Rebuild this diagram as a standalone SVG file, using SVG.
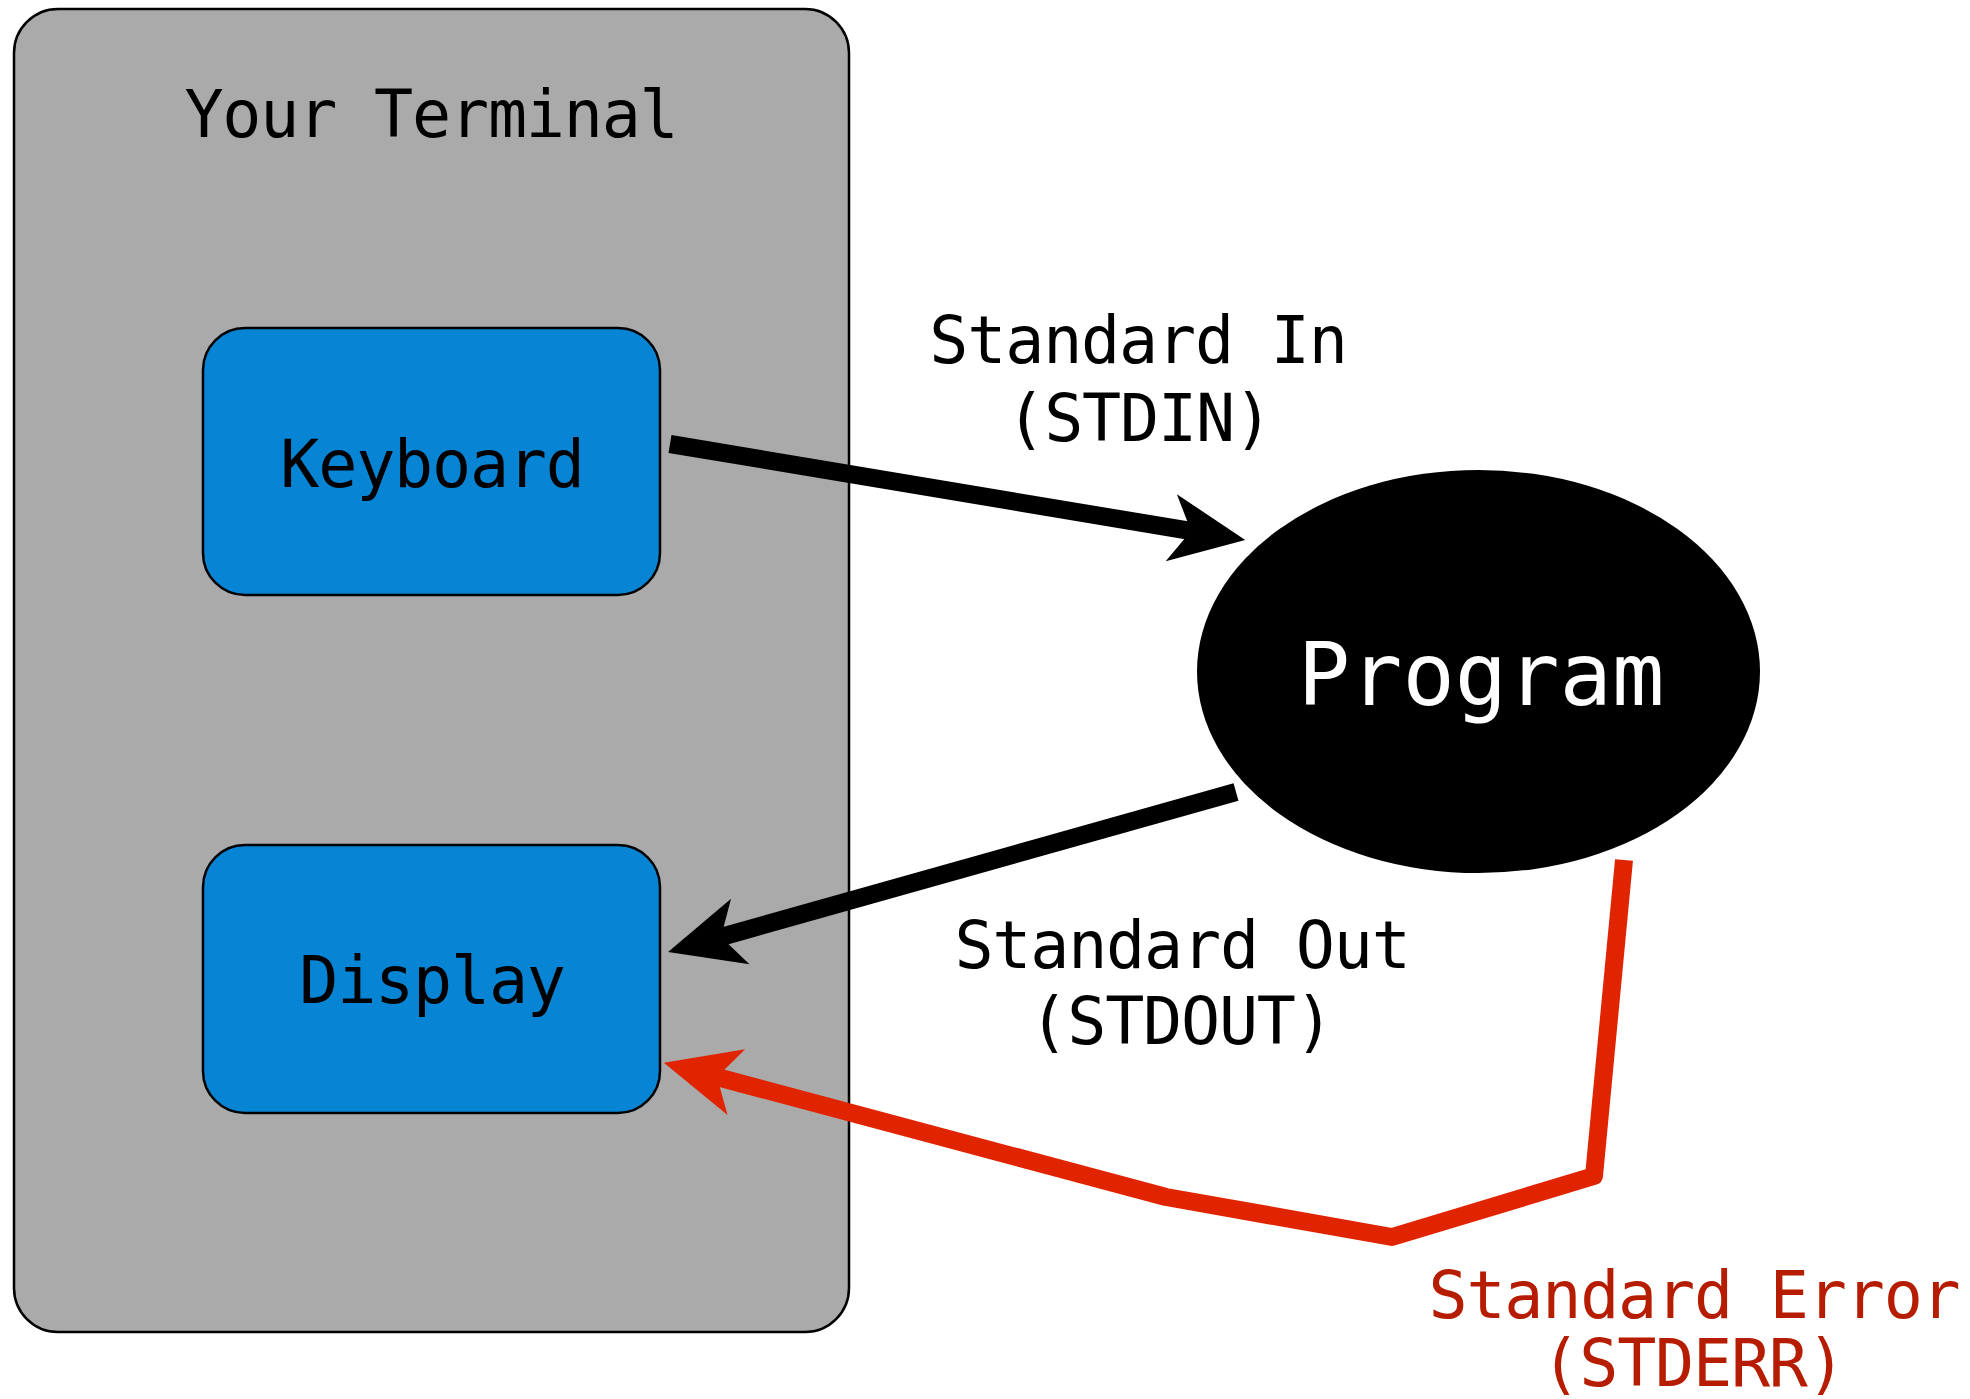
<svg xmlns="http://www.w3.org/2000/svg" width="1970" height="1399" viewBox="0 0 1970 1399">
<style>
  .mono { font-family: "DejaVu Sans Mono", "Liberation Mono", monospace; }
  .lbl { font-size: 65px; letter-spacing: -1.2px; text-anchor: middle; fill: #000; }
  .err { fill: #b51c00; }
  .box { fill: #0784d3; stroke: #000; stroke-width: 2.5; }
  .conn { fill: none; stroke-width: 18; stroke-linejoin: round; }
</style>
<defs>
  <marker id="ahBlack" markerUnits="userSpaceOnUse" markerWidth="100" markerHeight="80" viewBox="-25 -40 100 80" refX="0" refY="0" orient="auto" overflow="visible">
    <path d="M55,0 L-20,-34 L0,0 L-20,34 Z" fill="#000"/>
  </marker>
  <marker id="ahRed" markerUnits="userSpaceOnUse" markerWidth="100" markerHeight="80" viewBox="-25 -40 100 80" refX="0" refY="0" orient="auto" overflow="visible">
    <path d="M55,0 L-20,-34 L0,0 L-20,34 Z" fill="#e12400"/>
  </marker>
</defs>
<rect width="1970" height="1399" fill="#fff"/>

<g id="terminal">
  <rect x="14" y="9" width="835" height="1323" rx="44" ry="44" fill="#aaaaaa" stroke="#000" stroke-width="2.5"/>
  <text class="mono lbl" x="431" y="137">Your Terminal</text>
</g>

<g id="keyboard">
  <rect class="box" x="203" y="328" width="457" height="267" rx="42" ry="42"/>
  <text class="mono lbl" x="432" y="487">Keyboard</text>
</g>

<g id="display">
  <rect class="box" x="203" y="845" width="457" height="268" rx="42" ry="42"/>
  <text class="mono lbl" x="432" y="1003">Display</text>
</g>

<g id="program">
  <ellipse cx="1478.5" cy="671.5" rx="281.5" ry="201.5" fill="#000"/>
  <text class="mono" x="1481" y="705" font-size="87" letter-spacing="0" text-anchor="middle" fill="#fff">Program</text>
</g>

<g id="connectors">
  <line class="conn" x1="670" y1="444" x2="1191" y2="531" stroke="#000" marker-end="url(#ahBlack)"/>
  <line class="conn" x1="1236" y1="792" x2="721" y2="937" stroke="#000" marker-end="url(#ahBlack)"/>
  <polyline class="conn" points="1624,860 1594,1176 1392,1237 1166,1197 717,1077" stroke="#e12400" stroke-width="16" marker-end="url(#ahRed)"/>
</g>

<g id="labels">
  <text class="mono lbl" x="1138" y="363">Standard In</text>
  <text class="mono lbl" x="1139" y="441">(STDIN)</text>
  <text class="mono lbl" x="1182" y="968">Standard Out</text>
  <text class="mono lbl" x="1181" y="1044">(STDOUT)</text>
  <text class="mono lbl err" x="1694" y="1318">Standard Error</text>
  <text class="mono lbl err" x="1693" y="1386">(STDERR)</text>
</g>
</svg>
